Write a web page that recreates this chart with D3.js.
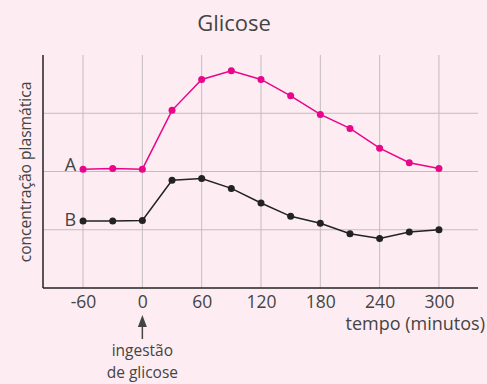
<!DOCTYPE html>
<html>
<head>
<meta charset="utf-8">
<script src="https://cdn.jsdelivr.net/npm/d3@7"></script>
<style>
  html, body { margin: 0; padding: 0; background: #fdedf2; }
  text { font-family: "Open Sans", sans-serif; fill: #444; }
</style>
</head>
<body>
<div id="chart"></div>
<script>
// tempo em minutos
const times = [-60, -30, 0, 30, 60, 90, 120, 150, 180, 210, 240, 270, 300];
const serieA = [2.04, 2.05, 2.04, 3.05, 3.58, 3.73, 3.58, 3.30, 2.98, 2.74, 2.40, 2.15, 2.05];
const serieB = [1.15, 1.15, 1.16, 1.85, 1.88, 1.71, 1.46, 1.23, 1.11, 0.93, 0.85, 0.96, 1.00];
const xTicks = [-60, 0, 60, 120, 180, 240, 300];
const yGrid = [1, 2, 3];

const width = 487, height = 384;
const margin = {top: 55, right: 9, bottom: 96, left: 43};

const svg = d3.select("#chart")
    .append("svg")
    .attr("width", width)
    .attr("height", height);

const x = d3.scaleLinear()
    .domain([-100.5, 339.5])
    .range([margin.left, width - margin.right]);

const y = d3.scaleLinear()
    .domain([0, 4])
    .range([height - margin.bottom, margin.top]);

// title
svg.append("text")
    .attr("x", 234)
    .attr("y", 31)
    .attr("text-anchor", "middle")
    .style("font-size", "22px")
    .text("Glicose");

// grid
const grid = svg.append("g").attr("stroke", "#c4bcc0").attr("stroke-width", 1);
grid.selectAll(".vg")
    .data(xTicks)
    .enter().append("line")
    .attr("x1", d => x(d)).attr("x2", d => x(d))
    .attr("y1", y(4)).attr("y2", y(0));
grid.selectAll(".hg")
    .data(yGrid)
    .enter().append("line")
    .attr("x1", x.range()[0]).attr("x2", x.range()[1])
    .attr("y1", d => y(d)).attr("y2", d => y(d));

// axes
const xAxis = svg.append("g")
    .attr("transform", `translate(0, ${y(0)})`)
    .call(d3.axisBottom(x).tickValues(xTicks).tickSize(0).tickPadding(7.5).tickFormat(d => String(d)));
xAxis.select(".domain").attr("stroke", "#222").attr("stroke-width", 1.5).attr("d", `M${x.range()[0]},0H${x.range()[1]}`);
xAxis.selectAll("text").style("font-size", "17.5px").style("font-family", "Open Sans").attr("fill", "#444");

svg.append("line")
    .attr("x1", x.range()[0]).attr("x2", x.range()[0])
    .attr("y1", y(4)).attr("y2", y(0))
    .attr("stroke", "#222").attr("stroke-width", 1.5);

svg.append("text")
    .attr("x", 485)
    .attr("y", 330)
    .attr("text-anchor", "end")
    .style("font-size", "18px")
    .text("tempo (minutos)");

svg.append("text")
    .attr("transform", "translate(31, 172) rotate(-90)")
    .attr("text-anchor", "middle")
    .style("font-size", "15.6px")
    .text("concentração plasmática");

// lines
const line = d3.line()
    .x((d, i) => x(times[i]))
    .y(d => y(d));

function drawSeries(values, color, label, dy) {
    svg.append("path")
        .datum(values)
        .attr("fill", "none")
        .attr("stroke", color)
        .attr("stroke-width", 1.5)
        .attr("d", line);
    svg.selectAll(".dot" + label)
        .data(values)
        .enter().append("circle")
        .attr("cx", (d, i) => x(times[i]))
        .attr("cy", d => y(d))
        .attr("r", 3.5)
        .attr("fill", color);
    svg.append("text")
        .attr("x", x(times[0]) - 7)
        .attr("y", y(values[0]) + dy)
        .attr("text-anchor", "end")
        .style("font-size", "18px")
        .text(label);
}

drawSeries(serieA, "#e8068a", "A", 1.5);
drawSeries(serieB, "#222", "B", 5);

// ingestão arrow
const ax = x(0);
svg.append("line")
    .attr("x1", ax).attr("x2", ax)
    .attr("y1", 325).attr("y2", 339)
    .attr("stroke", "#444").attr("stroke-width", 1.5);
svg.append("path")
    .attr("d", `M${ax},315L${ax - 4.5},327L${ax + 4.5},327Z`)
    .attr("fill", "#444");

svg.append("text")
    .attr("x", ax)
    .attr("y", 356)
    .attr("text-anchor", "middle")
    .style("font-size", "15.5px")
    .text("ingestão");
svg.append("text")
    .attr("x", ax)
    .attr("y", 377.5)
    .attr("text-anchor", "middle")
    .style("font-size", "15.5px")
    .text("de glicose");
</script>
</body>
</html>
